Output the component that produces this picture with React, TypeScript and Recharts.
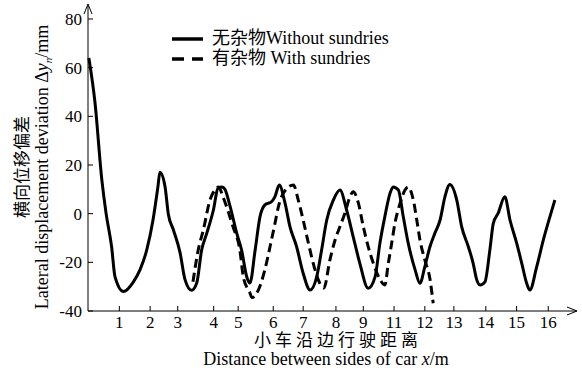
import { LineChart, Line, XAxis, YAxis } from 'recharts';

// positions of the printed distance ticks along the axis (the axis is not evenly spaced)
const xTickPos = [1.09, 2.16, 3.12, 4.37, 5.22, 6.44, 7.48, 8.62, 9.57, 10.64, 11.71, 12.72, 13.83, 14.9, 16.0];
const xTickLabels = ['1', '2', '3', '4', '5', '6', '7', '8', '9', '11', '12', '13', '14', '15', '16'];
const yTicks = [-40, -20, 0, 20, 40, 60, 80];

const seriesNames = ['无杂物Without sundries', '有杂物 With sundries'];

// 无杂物 Without sundries
const withoutX = [
  0.03, 0.24, 0.48, 0.63, 0.82, 0.94, 1.23, 1.58, 1.81, 2.04, 2.26, 2.43, 2.5, 2.68, 2.79, 2.97,
  3.2, 3.37, 3.6, 3.78, 3.95, 4.13, 4.36, 4.52, 4.66, 4.76, 4.94, 5.17, 5.34, 5.52, 5.63, 5.81,
  5.98, 6.15, 6.39, 6.5, 6.65, 6.85, 7.02, 7.25, 7.48, 7.72, 7.95, 8.12, 8.3, 8.53, 8.76, 8.99,
  9.22, 9.45, 9.74, 9.98, 10.15, 10.32, 10.5, 10.61, 10.79, 10.96, 11.13, 11.37, 11.54, 11.71,
  11.89, 12.06, 12.24, 12.41, 12.58, 12.82, 12.99, 13.22, 13.39, 13.51, 13.63, 13.8, 13.97,
  14.09, 14.26, 14.49, 14.67, 14.9, 15.08, 15.25, 15.36, 15.6, 15.83, 16.06, 16.23,
];
const withoutY = [
  64, 46, 14, 0, -13.5, -26, -32, -28, -23, -15, -2.6, 11, 17, 11, 0, -6.7,
  -16, -27, -31.5, -28.5, -15, -8, 1.5, 10.5, 11, 10, 3, -8, -15, -26, -28.5, -15,
  -1.2, 3.6, 5, 7, 11.8, 4.3, -5.3, -13.5, -24.5, -31.4, -26, -15, -2.6, 5.6, 9.7, 1.5,
  -9.5, -20.4, -30.7, -26, -12, -1.2, 8.4, 11, 9.7, -1.2, -12, -23, -28.6, -21.8,
  -13.5, -8, -2.6, 7, 12, 5.6, -5.3, -13.5, -20.4, -27, -29.3, -28, -15,
  -4, 0.2, 7, -2.6, -12, -20.4, -28.6, -31.4, -21.8, -10.8, -1.2, 5.6,
];

// 有杂物 With sundries
const withX = [
  3.65, 3.83, 4.01, 4.24, 4.41, 4.54, 4.69, 5.04, 5.28, 5.4, 5.63, 5.7, 5.92, 6.15, 6.33, 6.5,
  6.62, 6.79, 7.14, 7.31, 7.48, 7.66, 7.83, 8.06, 8.2, 8.41, 8.59, 8.76, 8.93, 9.11, 9.22, 9.4,
  9.57, 9.74, 9.92, 10.15, 10.32, 10.44, 10.56, 10.67, 10.85, 11.02, 11.13, 11.31, 11.43, 11.54,
  11.71, 11.89, 12.0,
];
const withY = [
  -28, -15, -6.7, 5.6, 9.7, 11, 7, -5.3, -15, -26, -32.6, -34.5, -31.4, -23, -13.5, -4,
  2.9, 8.4, 11.8, 5.6, -2.6, -12, -20.4, -28.6, -30.5, -19, -10.8, -5.3, 0.2, 7, 9, 4.3,
  -5.3, -13.5, -20.4, -27, -29.3, -20.4, -12, -4, 4.3, 9.7, 11, 5.6, -2.6, -10.8,
  -19, -27, -36.8,
];

const withoutData = withoutX.map((x, i) => ({ x, y: withoutY[i] }));
const withData = withX.map((x, i) => ({ x, y: withY[i] }));

const FONT = '"Liberation Serif", "Times New Roman", "Noto Sans CJK SC", serif';
const txt = { fontFamily: FONT };

function XTick({ x, y, index }: any) {
  return (
    <g>
      <line x1={x} y1={y} x2={x} y2={y - 5} stroke="#000" strokeWidth={1} />
      <text x={x} y={y + 17} textAnchor="middle" style={txt} fontSize={17} fill="#000">
        {xTickLabels[index]}
      </text>
    </g>
  );
}

function YTick({ x, y, payload }: any) {
  return (
    <g>
      <line x1={x} y1={y} x2={x + 5} y2={y} stroke="#000" strokeWidth={1} />
      <text x={x - 6} y={y + 6} textAnchor="end" style={txt} fontSize={17} fill="#000">
        {payload.value}
      </text>
    </g>
  );
}

export default function App() {
  return (
    <div style={{ position: 'absolute', left: 0, top: 0, width: 582, height: 371, background: '#fff', fontFamily: FONT }}>
      <LineChart width={582} height={371} margin={{ top: 5, right: 5, bottom: 0, left: 0 }}>
        <XAxis
          type="number"
          dataKey="x"
          domain={[0, 17]}
          ticks={xTickPos}
          interval={0}
          height={60}
          tickSize={0}
          tickMargin={0}
          tickLine={false}
          tick={<XTick />}
          axisLine={{ stroke: '#000', strokeWidth: 1 }}
        />
        <YAxis
          type="number"
          domain={[-40, 85.75]}
          ticks={yTicks}
          interval={0}
          width={88}
          tickSize={0}
          tickMargin={0}
          tickLine={false}
          tick={<YTick />}
          allowDataOverflow
          axisLine={{ stroke: '#000', strokeWidth: 1 }}
        />
        <Line
          data={withoutData}
          dataKey="y"
          name={seriesNames[0]}
          type="monotone"
          stroke="#000"
          strokeWidth={3}
          dot={false}
          isAnimationActive={false}
        />
        <Line
          data={withData}
          dataKey="y"
          name={seriesNames[1]}
          type="monotone"
          stroke="#000"
          strokeWidth={3}
          strokeDasharray="9 5"
          dot={false}
          isAnimationActive={false}
        />
      </LineChart>
      <svg width={582} height={371} style={{ position: 'absolute', left: 0, top: 0, pointerEvents: 'none' }}>
        {/* axis arrow heads */}
        <path d="M84 14 L88 4 L92 14" fill="none" stroke="#000" strokeWidth={1} />
        <path d="M567 307 L577 311 L567 315" fill="none" stroke="#000" strokeWidth={1} />
        {/* legend */}
        <line x1={172} y1={39} x2={203} y2={39} stroke="#000" strokeWidth={3.5} />
        <line x1={172} y1={59} x2={203} y2={59} stroke="#000" strokeWidth={3.5} strokeDasharray="12 8" />
        <g style={txt} fill="#000">
          <text x={212} y={44} fontSize={18}>{seriesNames[0]}</text>
          <text x={212} y={64} fontSize={18}>{seriesNames[1]}</text>
          <text x={28} y={167} fontSize={17} textAnchor="middle" transform="rotate(-90 28 167)">
            横向位移偏差
          </text>
          <text x={48} y={167} fontSize={18} textAnchor="middle" transform="rotate(-90 48 167)">
            Lateral displacement deviation Δ<tspan fontStyle="italic">y</tspan>
            <tspan fontStyle="italic" fontSize={11} dy={4}>n</tspan>
            <tspan dy={-4}>/mm</tspan>
          </text>
          <text x={338} y={346} fontSize={17} textAnchor="middle" letterSpacing={4}>
            小车沿边行驶距离
          </text>
          <text x={326} y={365} fontSize={18} textAnchor="middle">
            Distance between sides of car <tspan fontStyle="italic">x</tspan>/m
          </text>
        </g>
      </svg>
    </div>
  );
}
